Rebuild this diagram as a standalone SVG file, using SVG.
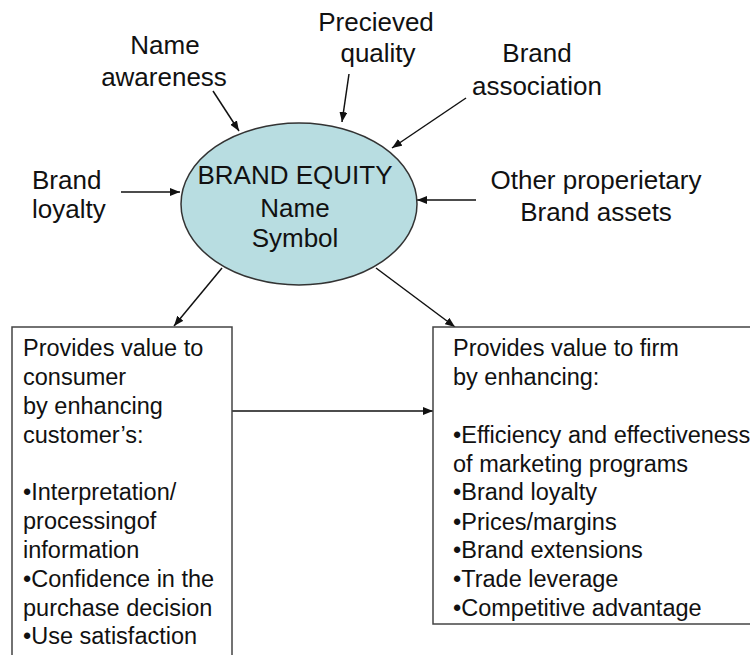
<svg xmlns="http://www.w3.org/2000/svg" width="750" height="655" viewBox="0 0 750 655">
<defs>
<marker id="ah" markerWidth="10" markerHeight="8" refX="10" refY="4" orient="auto" markerUnits="userSpaceOnUse">
<path d="M0,0 L10,4 L0,8 z" fill="#111"/>
</marker>
<style>
.lbl{font-family:"Liberation Sans",Arial,sans-serif;font-size:26px;fill:#111;}
.mid{text-anchor:middle;}
.box{font-family:"Liberation Sans",Arial,sans-serif;font-size:23.5px;fill:#111;}
.edge{stroke:#111;stroke-width:1.5;fill:none;marker-end:url(#ah);}
.rect{fill:#fff;stroke:#444;stroke-width:1.5;}
</style>
</defs>
<rect width="750" height="655" fill="#fff"/>
<g id="connectors">
<line class="edge" x1="213" y1="91" x2="239" y2="131"/>
<line class="edge" x1="349" y1="74" x2="342" y2="122"/>
<line class="edge" x1="466" y1="98" x2="392" y2="148"/>
<line class="edge" x1="121" y1="192" x2="180" y2="192"/>
<line class="edge" x1="476" y1="200" x2="417" y2="200"/>
<line class="edge" x1="222" y1="268" x2="174" y2="326"/>
<line class="edge" x1="376" y1="268" x2="455" y2="327"/>
<line class="edge" x1="232" y1="411" x2="433" y2="411"/>
</g>
<g id="brand-equity">
<ellipse cx="299" cy="204" rx="118" ry="81" fill="#b8dde1" stroke="#333" stroke-width="1.5"/>
<text class="lbl mid" x="295" y="184">BRAND EQUITY</text>
<text class="lbl mid" x="295" y="217">Name</text>
<text class="lbl mid" x="295" y="247">Symbol</text>
</g>
<g id="name-awareness">
<text class="lbl mid" x="165" y="54">Name</text>
<text class="lbl mid" x="164" y="86">awareness</text>
</g>
<g id="perceived-quality">
<text class="lbl mid" x="376" y="31">Precieved</text>
<text class="lbl mid" x="378" y="62">quality</text>
</g>
<g id="brand-association">
<text class="lbl mid" x="537" y="62">Brand</text>
<text class="lbl mid" x="537" y="95">association</text>
</g>
<g id="brand-loyalty">
<text class="lbl" x="32" y="189">Brand</text>
<text class="lbl" x="32" y="218">loyalty</text>
</g>
<g id="other-assets">
<text class="lbl mid" x="596" y="189">Other properietary</text>
<text class="lbl mid" x="596" y="221">Brand assets</text>
</g>
<g id="consumer-value">
<rect class="rect" x="12" y="327" width="220" height="340"/>
<text class="box" x="23" y="356">Provides value to</text>
<text class="box" x="23" y="385">consumer</text>
<text class="box" x="23" y="414">by enhancing</text>
<text class="box" x="23" y="443">customer’s:</text>
<text class="box" x="23" y="500">•Interpretation/</text>
<text class="box" x="23" y="529">processingof</text>
<text class="box" x="23" y="558">information</text>
<text class="box" x="23" y="587">•Confidence in the</text>
<text class="box" x="23" y="616">purchase decision</text>
<text class="box" x="23" y="644">•Use satisfaction</text>
</g>
<g id="firm-value">
<rect class="rect" x="433" y="327" width="330" height="297"/>
<text class="box" x="453" y="356">Provides value to firm</text>
<text class="box" x="453" y="385">by enhancing:</text>
<text class="box" x="453" y="443">•Efficiency and effectiveness</text>
<text class="box" x="453" y="472">of marketing programs</text>
<text class="box" x="453" y="500">•Brand loyalty</text>
<text class="box" x="453" y="530">•Prices/margins</text>
<text class="box" x="453" y="558">•Brand extensions</text>
<text class="box" x="453" y="587">•Trade leverage</text>
<text class="box" x="453" y="616">•Competitive advantage</text>
</g>
</svg>
